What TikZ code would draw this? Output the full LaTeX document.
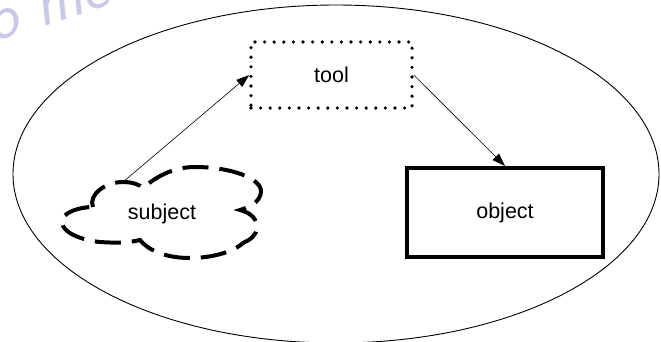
\documentclass[tikz,border=0pt]{standalone}
\usepackage{fontspec}
\setmainfont{Liberation Sans}
\usetikzlibrary{arrows.meta}
\definecolor{wm}{RGB}{200,200,232}
\tikzset{
  lbl/.style={font=\fontsize{21.5}{24}\selectfont},
  toolbox/.style={draw, line width=3.6pt, line cap=round, dash pattern=on 0pt off 9.6pt, minimum width=161pt, minimum height=66pt, lbl},
  objbox/.style={draw, line width=4pt, minimum width=196pt, minimum height=89pt, lbl},
  cloudline/.style={line width=4pt, dash pattern=on 26pt off 11pt},
  conn/.style={line width=0.6pt, -{Triangle[length=13pt,width=9pt]}},
  frame/.style={line width=0.9pt}
}
\begin{document}
\begin{tikzpicture}[x=1pt,y=-1pt]
\useasboundingbox (0,0) rectangle (661,341);
\begin{scope}
\clip (0,0) rectangle (661,341);
\node[text=wm, font=\fontsize{64}{64}\sffamily\itshape, rotate=18, anchor=base west] (wmark) at (-10,44) {o me};
\end{scope}
% outer ellipse
\draw[frame] (336,174) ellipse [x radius=323pt, y radius=169pt];
% nodes
\node[toolbox] (tool) at (331.5,75) {tool};
\node[objbox] (object) at (505,212.5) {object};
\node[lbl] (subject) at (162,214) {subject};
% cloud outline
\draw[cloudline] (93,207) .. controls (88,195) and (105,182) .. (123,182)
  .. controls (133,182) and (140,185) .. (143,188)
  .. controls (158,175) and (175,167) .. (195,167)
  .. controls (230,167) and (262,178) .. (261,192)
  .. controls (260,202) and (250,207) .. (240,210)
  .. controls (252,213) and (257,220) .. (257,227)
  .. controls (257,235) and (250,240) .. (243,243)
  .. controls (233,252) and (212,258) .. (190,258)
  .. controls (165,258) and (148,250) .. (140,240)
  .. controls (128,243) and (115,243) .. (100,242)
  .. controls (80,240) and (62,232) .. (62,222)
  .. controls (62,212) and (80,207) .. (93,207);
\coordinate (subjtop) at (123,182);
% connectors
\draw[conn] (subjtop) -- (tool.west);
\draw[conn] (tool.east) -- (object.north);
\end{tikzpicture}
\end{document}
